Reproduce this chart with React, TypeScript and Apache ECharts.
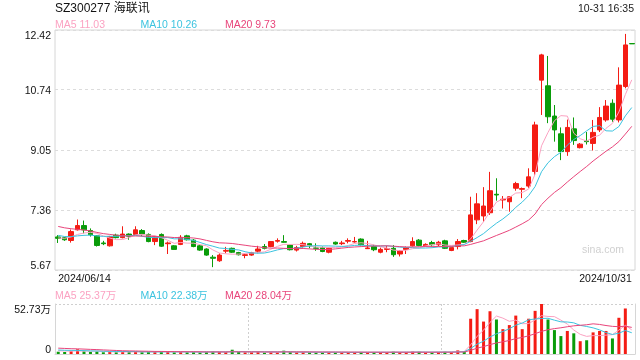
import React, { useEffect, useRef } from 'react';
import * as echarts from 'echarts';

// ---------- data ----------
const titleText = 'SZ300277 海联讯';
const timeText = '10-31 16:35';
const dateLabels = ['2024/06/14', '2024/10/31'];
const priceTicks = [5.67, 7.36, 9.05, 10.74, 12.42];
const priceTickLabels = ['5.67', '7.36', '9.05', '10.74', '12.42'];
const volTicks = [0, 52.73];
const volTickLabels = ['0', '52.73万'];
const priceMaNames = ['MA5', 'MA10', 'MA20'];
const priceMaLegend = ['11.03', '10.26', '9.73'];
const volMaLegend = ['25.37万', '22.38万', '28.04万'];
const maPeriods = [5, 10, 20];

// [open, close, low, high]
const candles: number[][] = [
  [6.60, 6.56, 6.43, 6.65], [6.58, 6.52, 6.49, 6.60], [6.50, 6.75, 6.44, 6.81], [6.80, 6.92, 6.78, 7.09],
  [6.92, 6.80, 6.70, 7.06], [6.78, 6.66, 6.61, 6.84], [6.63, 6.36, 6.33, 6.65], [6.43, 6.41, 6.37, 6.49],
  [6.35, 6.61, 6.33, 6.63], [6.65, 6.58, 6.56, 6.69], [6.58, 6.68, 6.56, 6.90], [6.68, 6.62, 6.52, 6.70],
  [6.67, 6.80, 6.65, 6.90], [6.78, 6.68, 6.62, 6.82], [6.67, 6.47, 6.45, 6.70], [6.47, 6.61, 6.37, 6.63],
  [6.67, 6.34, 6.32, 6.70], [6.41, 6.43, 6.12, 6.47], [6.35, 6.25, 6.24, 6.37], [6.39, 6.59, 6.37, 6.65],
  [6.63, 6.52, 6.50, 6.66], [6.51, 6.33, 6.31, 6.54], [6.35, 6.23, 6.21, 6.38], [6.26, 6.09, 6.07, 6.28],
  [6.03, 6.00, 5.75, 6.09], [5.93, 6.09, 5.90, 6.14], [6.20, 6.22, 6.14, 6.32], [6.28, 6.17, 6.15, 6.30],
  [6.16, 6.10, 6.08, 6.18], [6.08, 6.10, 6.00, 6.14], [6.09, 6.16, 6.07, 6.18], [6.20, 6.26, 6.14, 6.35],
  [6.33, 6.28, 6.25, 6.40], [6.33, 6.47, 6.31, 6.48], [6.48, 6.50, 6.44, 6.56], [6.47, 6.45, 6.44, 6.65],
  [6.37, 6.24, 6.22, 6.40], [6.23, 6.30, 6.19, 6.35], [6.33, 6.42, 6.30, 6.47], [6.41, 6.35, 6.28, 6.43],
  [6.29, 6.28, 6.21, 6.42], [6.30, 6.19, 6.17, 6.33], [6.17, 6.28, 6.14, 6.30], [6.45, 6.40, 6.38, 6.47],
  [6.41, 6.43, 6.37, 6.49], [6.48, 6.50, 6.42, 6.56], [6.46, 6.47, 6.44, 6.60], [6.54, 6.38, 6.36, 6.56],
  [6.27, 6.29, 6.26, 6.49], [6.33, 6.24, 6.20, 6.38], [6.17, 6.25, 6.14, 6.30], [6.25, 6.27, 6.17, 6.35],
  [6.28, 6.10, 6.04, 6.37], [6.12, 6.21, 6.05, 6.23], [6.25, 6.30, 6.12, 6.33], [6.35, 6.47, 6.33, 6.59],
  [6.51, 6.36, 6.34, 6.54], [6.35, 6.39, 6.33, 6.42], [6.44, 6.38, 6.33, 6.49], [6.38, 6.45, 6.33, 6.49],
  [6.49, 6.28, 6.26, 6.52], [6.22, 6.30, 6.20, 6.33], [6.33, 6.47, 6.25, 6.54], [6.50, 6.45, 6.43, 6.52],
  [6.47, 7.22, 6.45, 7.73], [7.08, 7.53, 6.96, 7.83], [7.19, 7.47, 7.03, 8.00], [7.28, 7.90, 7.22, 8.43],
  [7.80, 7.78, 7.62, 8.25], [7.64, 7.66, 7.40, 7.75], [7.59, 7.73, 7.31, 7.73], [7.97, 8.10, 7.90, 8.15],
  [7.94, 7.96, 7.69, 7.99], [8.03, 8.29, 7.98, 8.53], [8.44, 9.75, 8.35, 9.84], [11.01, 11.72, 10.03, 11.75],
  [10.85, 9.98, 9.80, 11.69], [10.00, 9.61, 9.28, 10.31], [9.50, 9.00, 8.76, 9.68], [9.00, 9.68, 8.88, 9.90],
  [9.64, 9.31, 9.19, 9.96], [9.11, 9.21, 9.09, 9.24], [9.30, 9.28, 9.20, 9.55], [9.23, 9.54, 9.03, 9.89],
  [9.61, 9.96, 9.55, 10.25], [9.89, 10.28, 9.84, 10.45], [10.36, 9.91, 9.84, 10.47], [9.89, 10.87, 9.82, 11.37],
  [10.83, 12.00, 10.78, 12.31], [12.04, 12.03, 12.03, 12.04],
];

// volume, 万
const volumes: number[] = [
  2.4, 2.2, 3.0, 5.0, 2.8, 2.2, 2.6, 1.8, 2.4, 1.9,
  2.5, 2.0, 2.6, 2.0, 2.3, 2.1, 2.6, 2.4, 1.8, 2.2,
  1.9, 2.1, 1.8, 2.3, 2.6, 2.3, 2.0, 4.5, 2.0, 1.7,
  1.8, 2.0, 1.6, 2.2, 1.8, 3.5, 2.0, 1.7, 1.9, 1.6,
  1.5, 1.8, 1.7, 1.9, 1.6, 1.8, 2.0, 2.2, 1.9, 1.7,
  1.8, 1.6, 2.4, 1.9, 1.7, 2.6, 2.4, 1.6, 1.7, 2.0,
  2.3, 2.1, 3.8, 3.0,
  37.2, 47.3, 34.2, 45.1, 36.4, 26.2,
  30.5, 40.5, 26.2, 37.2, 45.5, 52.73, 36.4, 25.2, 18.9, 24.3,
  21.8, 13.5, 14.5, 22.8, 24.3, 24.3, 16.4, 38.2, 48.0, 0,
];

// values before the visible window (used only for moving averages)
const priorCloses = [7.30, 7.25, 7.28, 7.20, 7.15, 7.18, 7.10, 7.05, 7.00, 6.95, 6.85, 6.78, 6.70, 6.65, 6.60, 6.58, 6.55, 6.57, 6.60];
const priorVolumes = [8, 9, 7.5, 8.5, 8, 7, 9, 8, 7.5, 8.5, 5, 4.5, 5.5, 4.8, 5.2, 3.5, 4.0, 3.8, 3.6];

// ---------- styles ----------
const UP = '#f41c14';
const DOWN = '#0a9c0a';
const MA_COLORS = ['#fba2c2', '#3cc3df', '#e8457b'];
const FONT = 'Arial, "Liberation Sans", "Noto Sans CJK SC", sans-serif';

function movingAverage(values: number[], prior: number[], n: number) {
  const all = prior.concat(values);
  return values.map((_, i) => {
    const end = prior.length + i;
    if (end - n + 1 < 0) return '-';
    let s = 0;
    for (let k = end - n + 1; k <= end; k++) s += all[k];
    return +(s / n).toFixed(4);
  });
}

export default function App() {
  const ref = useRef<HTMLDivElement>(null);

  useEffect(() => {
    if (!ref.current) return;
    const chart = echarts.init(ref.current, undefined, { renderer: 'svg' });
    const cats = candles.map((_, i) => String(i));
    const last = cats.length - 1;
    const closes = candles.map((c) => c[1]);
    const priceMAs = maPeriods.map((p) => movingAverage(closes, priorCloses, p));
    const volMAs = maPeriods.map((p) => movingAverage(volumes, priorVolumes, p));
    const volData = volumes.map((v, i) => ({
      value: v,
      itemStyle: { color: candles[i][1] >= candles[i][0] ? UP : DOWN },
    }));

    const texts: any[] = [
      { type: 'text', x: 55, y: 8, style: { text: titleText, fill: '#111', font: `12px ${FONT}`, textVerticalAlign: 'middle' } },
      { type: 'text', x: 634, y: 8, style: { text: timeText, fill: '#222', font: `10.5px ${FONT}`, textAlign: 'right', textVerticalAlign: 'middle' } },
      { type: 'text', x: 603, y: 249, style: { text: 'sina.com', fill: '#d0d0d0', font: `10.5px ${FONT}`, textAlign: 'center', textVerticalAlign: 'middle' } },
    ];
    const legendX = [55, 140.5, 225];
    priceMaNames.forEach((n, k) => {
      texts.push({ type: 'text', x: legendX[k], y: 24, style: { text: `${n} ${priceMaLegend[k]}`, fill: MA_COLORS[k], font: `10.5px ${FONT}`, textVerticalAlign: 'middle' } });
      texts.push({ type: 'text', x: legendX[k], y: 294.5, style: { text: `${n} ${volMaLegend[k]}`, fill: MA_COLORS[k], font: `10.5px ${FONT}`, textVerticalAlign: 'middle' } });
    });

    const lineSeries = (data: any[], k: number, xi: number, yi: number, name: string) => ({
      type: 'line', name, data, xAxisIndex: xi, yAxisIndex: yi, showSymbol: false, symbol: 'none',
      lineStyle: { width: 1, color: MA_COLORS[k] }, itemStyle: { color: MA_COLORS[k] }, z: 3, silent: true,
    });

    chart.setOption({
      animation: false,
      textStyle: { fontFamily: FONT },
      grid: [
        { left: 55, right: 5, top: 30, height: 240, show: true, borderColor: '#d6d6d6', borderWidth: 1, backgroundColor: 'transparent' },
        { left: 55, right: 5, top: 304, height: 50 },
      ],
      graphic: texts,
      xAxis: [
        {
          type: 'category', gridIndex: 0, data: cats, boundaryGap: true,
          axisLine: { show: false }, axisTick: { show: false }, splitLine: { show: false },
          axisLabel: {
            show: true, fontSize: 10.5, color: '#111', margin: 3,
            interval: (i: number) => i === 0 || i === last,
            formatter: (_v: string, i: number) => (i === 0 ? dateLabels[0] : dateLabels[1]),
            alignMinLabel: 'left', alignMaxLabel: 'right',
          },
        },
        {
          type: 'category', gridIndex: 1, data: cats, boundaryGap: true,
          axisLine: { show: true, lineStyle: { color: '#d6d6d6' } }, axisTick: { show: false }, axisLabel: { show: false },
          splitLine: { show: true, interval: 29, lineStyle: { color: '#cfcfcf', type: [2, 2] } },
        },
      ],
      yAxis: [
        {
          type: 'value', gridIndex: 0, min: priceTicks[0], max: priceTicks[priceTicks.length - 1],
          axisLine: { show: false }, axisTick: { show: false, customValues: priceTicks },
          axisLabel: {
            customValues: priceTicks, fontSize: 10.5, color: '#111', margin: 4,
            formatter: (v: number) => priceTickLabels[priceTicks.indexOf(v)] ?? v.toFixed(2),
            verticalAlignMinLabel: 'bottom', verticalAlignMaxLabel: 'top',
          },
          splitLine: { show: true, lineStyle: { color: '#dcdcdc', type: [3, 3] } },
        },
        {
          type: 'value', gridIndex: 1, min: volTicks[0], max: volTicks[1],
          axisLine: { show: true, lineStyle: { color: '#d6d6d6' } }, axisTick: { show: false, customValues: volTicks },
          axisLabel: {
            customValues: volTicks, fontSize: 10.5, color: '#111', margin: 4,
            formatter: (v: number) => volTickLabels[volTicks.indexOf(v)] ?? String(v),
            verticalAlignMinLabel: 'bottom', verticalAlignMaxLabel: 'top',
          },
          splitLine: { show: true, lineStyle: { color: '#cfcfcf', type: [2, 2] } },
        },
        {
          type: 'value', gridIndex: 1, position: 'right', min: volTicks[0], max: volTicks[1],
          axisLine: { show: true, lineStyle: { color: '#d6d6d6' } }, axisTick: { show: false },
          axisLabel: { show: false }, splitLine: { show: false },
        },
      ],
      series: [
        {
          type: 'candlestick', name: 'K', data: candles, xAxisIndex: 0, yAxisIndex: 0, barWidth: 5,
          itemStyle: { color: UP, color0: DOWN, borderColor: UP, borderColor0: DOWN, borderWidth: 1 },
          silent: true,
        },
        ...priceMAs.map((d, k) => lineSeries(d, k, 0, 0, priceMaNames[k])),
        { type: 'bar', name: 'VOL', data: volData, xAxisIndex: 1, yAxisIndex: 1, barWidth: 3, silent: true },
        ...volMAs.map((d, k) => lineSeries(d, k, 1, 1, 'V' + priceMaNames[k])),
      ],
    });
    return () => chart.dispose();
  }, []);

  return <div ref={ref} style={{ position: 'fixed', left: 0, top: 0, width: 640, height: 360 }} />;
}
